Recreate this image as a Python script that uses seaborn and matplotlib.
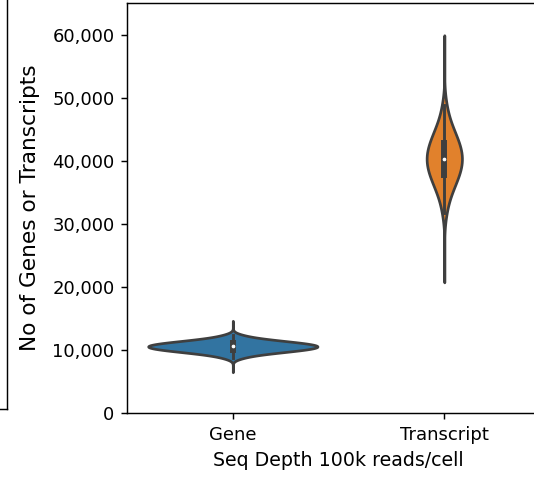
import matplotlib
matplotlib.use("Agg")
import matplotlib.pyplot as plt
import matplotlib.ticker as mticker
import seaborn as sns
import pandas as pd

# counts per cell, estimated from the violins in the reference
categories = ["Gene", "Transcript"]
gene_counts = [8760, 9130, 9320, 9470, 9580, 9680, 9760, 9840, 9910, 9980,
               10040, 10100, 10160, 10220, 10270, 10320, 10370, 10420, 10480, 10530,
               10580, 10630, 10680, 10730, 10780, 10830, 10890, 10940, 11000, 11060,
               11120, 11190, 11260, 11340, 11420, 11520, 11640, 11780, 11970, 12340]
transcript_counts = [31700, 33470, 34410, 35090, 35640, 36110, 36520, 36890, 37240, 37560,
                     37860, 38150, 38420, 38690, 38950, 39200, 39450, 39700, 39940, 40180,
                     40420, 40660, 40900, 41150, 41400, 41650, 41910, 42180, 42450, 42740,
                     43040, 43360, 43710, 44080, 44490, 44960, 45510, 46190, 47140, 48910]

df = pd.DataFrame({
    "Type": [categories[0]] * len(gene_counts) + [categories[1]] * len(transcript_counts),
    "Count": gene_counts + transcript_counts,
})

fig = plt.figure(figsize=(534 / 130, 477 / 130), dpi=130)

# edge of the neighbouring panel that is cut off on the left
ghost = fig.add_axes([-0.5, 0.1426, 0.513, 1.0])
ghost.set_xticks([])
ghost.set_yticks([])

# the reference is cropped, so this panel runs past the right edge
ax = fig.add_axes([0.238, 0.134, 0.792, 0.8597])
sns.violinplot(data=df, x="Type", y="Count", hue="Type", legend=False,
               common_norm=True, cut=6, linewidth=1.5,
               inner_kws=dict(box_width=3.3, whis_width=1.6, marker="."), ax=ax)
ax.set_xlim(-0.5, 1.5)
ax.set_ylim(0, 65000)
ax.spines["right"].set_visible(False)
ax.yaxis.set_major_formatter(mticker.StrMethodFormatter("{x:,.0f}"))
ax.set_xlabel("Seq Depth 100k reads/cell", fontsize=10.5)
ax.set_ylabel("No of Genes or Transcripts", fontsize=12, labelpad=7)

fig.savefig("out.png", dpi=130)
